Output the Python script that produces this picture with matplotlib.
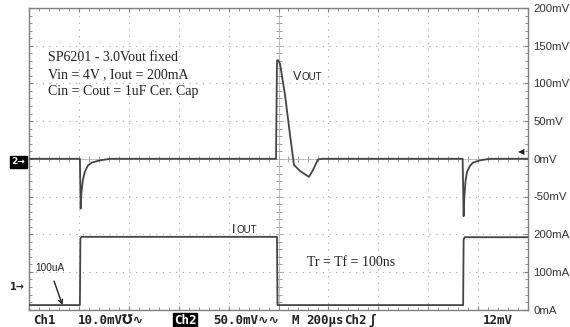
import matplotlib
matplotlib.use("Agg")
import matplotlib.pyplot as plt
from matplotlib.ticker import MultipleLocator, NullFormatter

# trace data (time in us, 200us/div)
vout_t = [0, 204, 207, 210, 216, 224, 236, 252, 285, 325,
          990, 994, 998, 1006, 1026, 1046, 1062, 1086, 1122, 1138, 1158, 1174,
          1738, 1742, 1745, 1750, 1756, 1768, 1780, 1808, 1848, 2000]
vout_mv = [0, 0, -66, -45, -28, -17, -9, -5, -2, 0,
           0, 130, 131, 126, 85, 32, -8, -16, -24, -15, -1, 0,
           0, -76, -50, -28, -17, -9, -5, -2, 0, 0]

iout_t = [0, 204, 206, 210, 994, 996, 1740, 1742, 1746, 2000]
iout_ma = [12, 12, 188, 193, 193, 12, 12, 186, 192, 192]

vout_ticks = [200, 150, 100, 50, 0, -50]
iout_ticks = [200, 100, 0]

W, H = 570, 327
fig = plt.figure(figsize=(W / 100, H / 100), dpi=100)
fig.patch.set_facecolor("white")

x0, x1, y0, y1 = 29, 528, 8, 309.6
pos = [x0 / W, 1 - y1 / H, (x1 - x0) / W, (y1 - y0) / H]

grid_c = "#a8a8a8"
trace_c = "#454545"

# centre cross of the graticule (drawn underneath)
axc = fig.add_axes(pos, zorder=-1)
axc.set_xlim(0, 10)
axc.set_ylim(0, 8)
for s in ["top", "right"]:
    axc.spines[s].set_visible(False)
axc.spines["left"].set_position(("data", 5))
axc.spines["bottom"].set_position(("data", 4))
for s in ["left", "bottom"]:
    axc.spines[s].set_color("#b8b8b8")
    axc.spines[s].set_linewidth(0.6)
axc.xaxis.set_major_locator(MultipleLocator(0.2))
axc.yaxis.set_major_locator(MultipleLocator(0.2))
axc.tick_params(direction="inout", length=4, width=0.6, color="#909090",
                labelbottom=False, labelleft=False)

ax = fig.add_axes(pos)
ax.patch.set_visible(False)
ax2 = ax.twinx()

ax.set_xlim(0, 2000)
ax.set_ylim(-200, 200)
ax.xaxis.set_major_locator(MultipleLocator(200))
ax.xaxis.set_minor_locator(MultipleLocator(40))
ax.yaxis.set_major_locator(MultipleLocator(50))
ax.yaxis.set_minor_locator(MultipleLocator(10))
ax.grid(True, which="major", color=grid_c, lw=0.8, ls=(0, (1, 5)))
for s in ax.spines.values():
    s.set_color("#808080")
    s.set_linewidth(1.0)
ax.set_yticks(range(-200, 201, 50))
ax.set_yticklabels([f"{v}mV" if v in vout_ticks else "" for v in range(-200, 201, 50)],
                   fontsize=8.2, family="Liberation Sans", color="#333333")
ax.tick_params(which="both", direction="in", color="#808080",
               top=True, bottom=True, left=True, right=True,
               labelbottom=False, labelleft=False, labelright=True)
ax.tick_params(which="major", length=3)
ax.tick_params(which="minor", length=2.5)
ax.tick_params(axis="y", pad=4)
ax.xaxis.set_minor_formatter(NullFormatter())

ax.plot(vout_t, vout_mv, color=trace_c, lw=1.3, zorder=3)

ax2.set_ylim(0, 800)
ax2.set_yticks(iout_ticks)
ax2.set_yticklabels([f"{v}mA" for v in iout_ticks], fontsize=8.2,
                    family="Liberation Sans", color="#333333")
ax2.tick_params(axis="y", length=0, pad=4, labelright=True, labelleft=False)
for s in ax2.spines.values():
    s.set_visible(False)
ax2.plot(iout_t, iout_ma, color=trace_c, lw=1.3, zorder=3)

# annotations
serif = dict(family="Liberation Serif", fontsize=10, color="#222222", va="center")
ax.text(76, 135, "SP6201 - 3.0Vout fixed", **serif)
ax.text(76, 112, "Vin = 4V , Iout = 200mA", **serif)
ax.text(76, 89, "Cin = Cout = 1uF Cer. Cap", **serif)
ax.text(1114, -137, "Tr = Tf = 100ns", **serif)

sans = dict(family="Liberation Sans", color="#222222", va="baseline")
ax.text(1058, 105, "V", fontsize=9, **sans)
ax.annotate("OUT", xy=(1058, 105), xytext=(6.5, 0), textcoords="offset points",
            fontsize=7, **sans)
ax.text(814, -98, "I", fontsize=9, **sans)
ax.annotate("OUT", xy=(814, -98), xytext=(3.0, 0), textcoords="offset points",
            fontsize=7, **sans)

ax.annotate("100uA", xy=(134, -194), xytext=(24, -145), fontsize=7.2,
            family="Liberation Sans", va="center", color="#222222",
            arrowprops=dict(arrowstyle="->", color="#222222", lw=1.0,
                            shrinkA=4, shrinkB=0))

ax.text(1972, 9, "\u25c0", fontsize=6, ha="center", va="center", color="#222222")

# channel markers on the left
fig.text(18 / W, 1 - 162 / H, "2\u2192", fontsize=6.5, fontweight="bold", color="white",
         ha="center", va="center",
         bbox=dict(facecolor="black", edgecolor="black", pad=1.2))
fig.text(17 / W, 1 - 287 / H, "1\u2192", fontsize=7, fontweight="bold", color="#222222",
         ha="center", va="center")

# scope status line along the bottom
mono = ["DejaVu Sans Mono", "DejaVu Sans"]
status = dict(fontsize=9, fontweight="bold", color="#222222", va="baseline", family=mono)
yb = 1 - 324 / H
fig.text(33 / W, yb, "Ch1", **status)
fig.text(78 / W, yb, "10.0mV\u2127\u223f", **status)
fig.text(174 / W, yb, "Ch2", fontsize=9, fontweight="bold", color="white", va="baseline",
         family=mono, bbox=dict(facecolor="black", edgecolor="black", pad=0.6))
fig.text(213 / W, yb, "50.0mV\u223f\u223f", **status)
fig.text(292 / W, yb, "M", **status)
fig.text(306 / W, yb, "200\u00b5s", **status)
fig.text(344 / W, yb, "Ch2", **status)
fig.text(368 / W, yb, "\u0283", **status)
fig.text(483 / W, yb, "12mV", **status)

fig.savefig("out.png", dpi=100)
